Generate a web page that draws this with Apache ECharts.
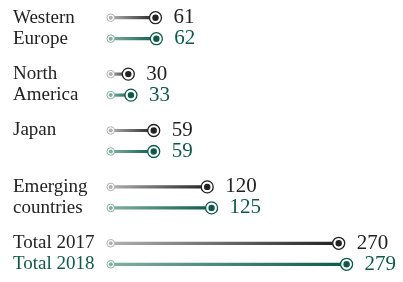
<!DOCTYPE html>
<html>
<head>
<meta charset="utf-8">
<script src="https://cdn.jsdelivr.net/npm/echarts@6/dist/echarts.min.js"></script>
<style>
  html, body { margin: 0; padding: 0; background: #fff; }
  #chart { width: 403px; height: 282px; }
</style>
</head>
<body>
<div id="chart"></div>
<script>
var groups = ['Western\nEurope', 'North\nAmerica', 'Japan', 'Emerging\ncountries', 'Total 2017\nTotal 2018'];
var values2017 = [61, 30, 59, 120, 270];
var values2018 = [62, 33, 59, 125, 279];
var stubStart = 10; // lines begin a little right of zero

var dark = '#222222';
var green = '#0d5a49';
var font = '"Liberation Serif", "DejaVu Serif", serif';

function makeRender(values, offset, light, color) {
  return function (params, api) {
    var idx = api.value(0);
    var p0 = api.coord([stubStart, idx]);
    var p1 = api.coord([values[idx], idx]);
    var y = p0[1] + offset;
    return {
      type: 'group',
      children: [
        {
          type: 'line',
          shape: { x1: p0[0], y1: y, x2: p1[0], y2: y },
          style: {
            lineWidth: 3.2,
            stroke: new echarts.graphic.LinearGradient(p0[0], 0, p1[0], 0, [
              { offset: 0, color: light },
              { offset: 1, color: color }
            ], true)
          }
        },
        {
          type: 'circle',
          shape: { cx: p0[0], cy: y, r: 3.8 },
          style: { fill: '#fff', stroke: light, lineWidth: 1 }
        },
        {
          type: 'circle',
          shape: { cx: p0[0], cy: y, r: 2 },
          style: { fill: light }
        },
        {
          type: 'circle',
          shape: { cx: p1[0], cy: y, r: 6 },
          style: { fill: '#fff', stroke: color, lineWidth: 1.3 }
        },
        {
          type: 'circle',
          shape: { cx: p1[0], cy: y, r: 3.2 },
          style: { fill: color }
        },
        {
          type: 'text',
          x: p1[0] + 18,
          y: y,
          style: {
            text: String(values[idx]),
            fill: color,
            font: '21px ' + font,
            verticalAlign: 'middle',
            align: 'left'
          }
        }
      ]
    };
  };
}

var chart = echarts.init(document.getElementById('chart'));
chart.setOption({
  animation: false,
  grid: { left: 102, right: 38, top: -5, bottom: -7 },
  xAxis: { type: 'value', min: 0, max: 300, show: false },
  yAxis: {
    type: 'category',
    inverse: true,
    data: groups,
    axisLine: { show: false },
    axisTick: { show: false },
    splitLine: { show: false },
    axisLabel: {
      align: 'left',
      margin: 89,
      formatter: function (v, i) {
        var lines = v.split('\n');
        if (lines.length < 2) lines.push(' ');
        if (i === groups.length - 1) {
          return '{t|' + lines[0] + '}\n{g|' + lines[1] + '}';
        }
        return '{t|' + lines[0] + '}\n{t|' + lines[1] + '}';
      },
      rich: {
        t: { fontFamily: font, fontSize: 19, color: dark, lineHeight: 21 },
        g: { fontFamily: font, fontSize: 19, color: green, lineHeight: 21 }
      }
    }
  },
  series: [
    {
      type: 'custom',
      name: '2017',
      renderItem: makeRender(values2017, -10.5, '#b0b0b0', dark),
      data: groups.map(function (g, i) { return [i]; })
    },
    {
      type: 'custom',
      name: '2018',
      renderItem: makeRender(values2018, 10.5, '#80b0a2', green),
      data: groups.map(function (g, i) { return [i]; })
    }
  ]
});
</script>
</body>
</html>
